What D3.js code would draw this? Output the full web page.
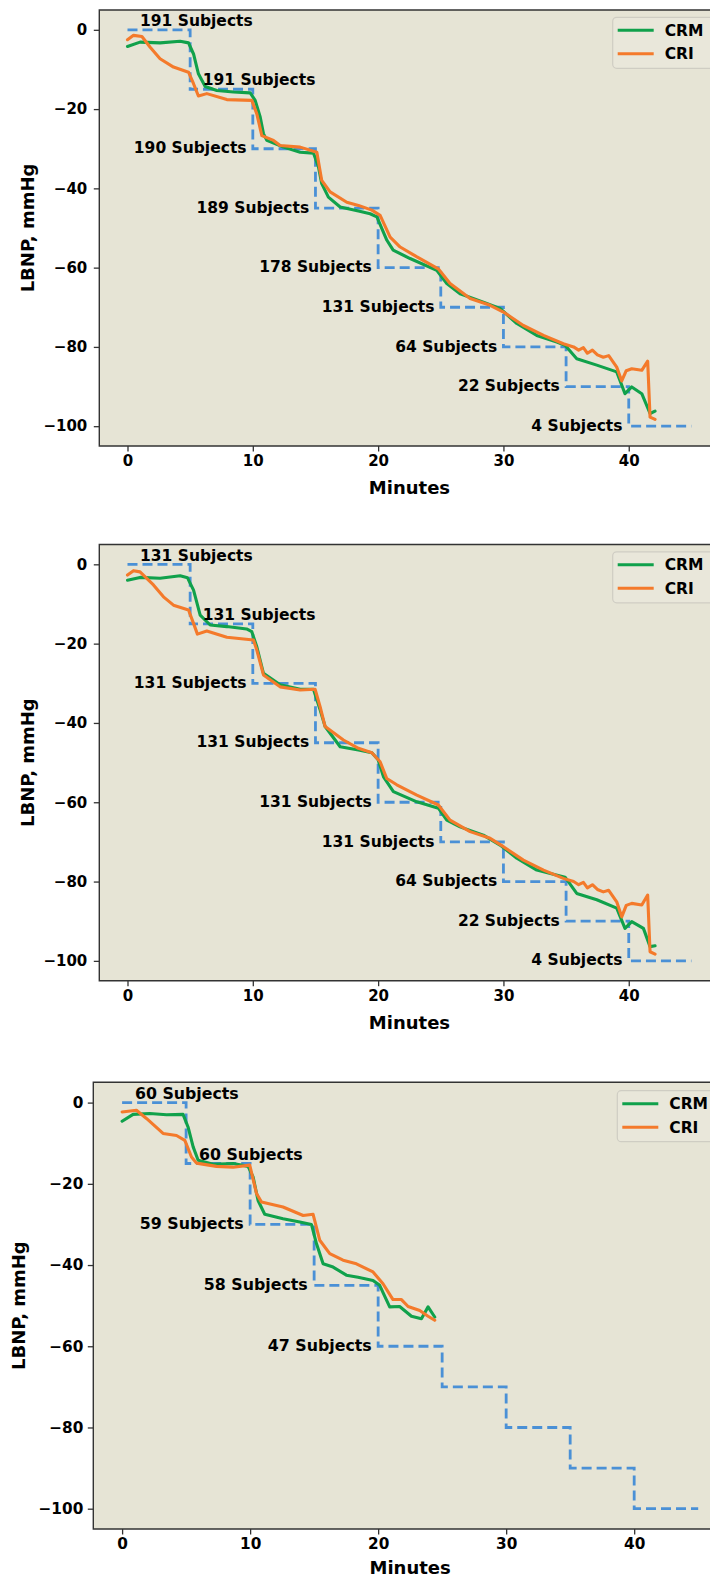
<!DOCTYPE html>
<html>
<head>
<meta charset="utf-8">
<script src="https://cdn.jsdelivr.net/npm/d3@7"></script>
<style>
  body { margin: 0; background: #fff; }
  svg text { font-family: "DejaVu Sans", sans-serif; font-weight: bold; }
</style>
</head>
<body>
<div id="chart"></div>
<script>
// ---- data ----
var xTicks = [0, 10, 20, 30, 40];
var yTicks = [0, -20, -40, -60, -80, -100];
var stepMinutes = [0, 5, 10, 15, 20, 25, 30, 35, 40, 45];
var stepLevels = [0, -15, -30, -45, -60, -70, -80, -90, -100];
var seriesNames = ["CRM", "CRI"];

var subjects1 = [191, 191, 190, 189, 178, 131, 64, 22, 4];
var subjects2 = [131, 131, 131, 131, 131, 131, 64, 22, 4];
var subjects3 = [60, 60, 59, 58, 47];

var crmMin1 = [0, 1.0, 2.6, 4.2, 4.87, 5.27, 5.66, 6.2, 7.13, 8.46, 9.79, 10.19, 10.59, 10.85, 11.12, 12.45, 13.78, 14.84, 15.24, 15.5, 16.03, 16.97, 18.43, 19.36, 19.9, 20.7, 21.2, 22.55, 24.68, 25.48, 26.54, 28.4, 29.73, 31.07, 32.66, 34.26, 34.92, 35.85, 37.45, 39.04, 39.7, 40.24, 41.04, 41.7, 42.1];
var crmVal1 = [-4.2, -3.1, -3.3, -2.9, -3.3, -6.1, -11.1, -14.3, -15.3, -15.7, -15.9, -17.8, -22, -26.2, -27.9, -29.6, -30.9, -31.1, -34.6, -38.8, -42.2, -44.7, -45.7, -46.4, -47.2, -53.1, -55.6, -57.7, -60.7, -64.0, -66.6, -68.7, -70.3, -74.1, -77.1, -78.8, -79.6, -83, -84.6, -86.3, -91.8, -90.1, -91.8, -96.8, -96.2];
var criMin1 = [0, 0.48, 1.15, 1.81, 2.6, 3.67, 4.87, 5.27, 5.66, 6.33, 7.93, 9.92, 10.32, 10.72, 11.65, 12.18, 13.78, 15.11, 15.5, 16.17, 17.5, 18.43, 19.5, 20.16, 20.96, 21.76, 23.1, 24.8, 25.74, 27.34, 28.94, 30.0, 31.59, 33.2, 34.78, 35.6, 36.0, 36.38, 36.7, 37.1, 37.5, 37.97, 38.4, 39.04, 39.44, 39.8, 40.24, 41.04, 41.51, 41.7, 42.1];
var criVal1 = [-2.5, -1.4, -1.7, -4.4, -7.3, -9.4, -10.7, -13.6, -16.7, -16.1, -17.6, -17.8, -21.2, -26.7, -27.9, -29.2, -29.6, -30.9, -38, -40.9, -43.5, -44.3, -45.5, -46.8, -52.3, -54.8, -57.3, -60.3, -64, -67.8, -69.5, -71.2, -74.6, -77.1, -79.2, -80.0, -80.8, -80.2, -81.6, -80.8, -82.0, -82.6, -82.2, -85.1, -88.6, -86.0, -85.5, -85.9, -83.6, -97.7, -98.3];

var crmMin2 = [0, 1.0, 2.6, 4.2, 4.79, 5.27, 5.8, 6.6, 7.93, 9.5, 9.92, 10.32, 10.85, 12.18, 13.78, 14.84, 15.37, 15.77, 16.97, 18.43, 19.5, 20.0, 20.43, 21.22, 23.09, 24.81, 25.48, 26.54, 28.4, 29.73, 31.07, 32.66, 34.92, 35.85, 37.45, 39.04, 39.7, 40.24, 41.17, 41.7, 42.1];
var crmVal2 = [-4.0, -3.3, -3.5, -2.9, -3.4, -6.5, -12.8, -15.3, -15.7, -16.3, -17, -20.8, -27.5, -30.4, -31.5, -31.5, -36.7, -40.9, -46, -46.8, -47.5, -49.3, -53.6, -57.3, -59.9, -61.5, -64.5, -66.2, -68.3, -70.8, -74.1, -77.1, -78.9, -83, -84.6, -86.7, -91.8, -90.1, -91.8, -96.4, -96.2];
var criMin2 = [0, 0.48, 1.0, 2.07, 2.87, 3.67, 4.87, 5.27, 5.58, 6.33, 7.93, 10.05, 10.32, 10.85, 12.18, 13.78, 14.97, 15.37, 15.77, 17.23, 18.43, 19.5, 20.16, 20.69, 21.49, 23.09, 24.81, 25.74, 27.34, 28.94, 30, 31.59, 33.2, 34.78, 35.6, 36.0, 36.38, 36.7, 37.1, 37.5, 37.97, 38.4, 39.04, 39.44, 39.8, 40.24, 41.04, 41.51, 41.7, 42.1];
var criVal2 = [-2.7, -1.6, -1.9, -5.2, -8.2, -10.3, -11.5, -14.9, -17.6, -16.8, -18.4, -19.1, -21.6, -27.9, -30.9, -31.7, -31.5, -35.9, -40.9, -44.3, -46.4, -47.5, -49.8, -54, -55.6, -58.2, -60.7, -64.5, -67.4, -69.1, -71.2, -74.6, -77.1, -79.2, -80.0, -80.8, -80.2, -81.6, -80.8, -82.0, -82.6, -82.2, -85.1, -88.9, -86.0, -85.5, -85.9, -83.4, -97.7, -98.3];

var crmMin3 = [0, 0.86, 2.16, 3.47, 4.76, 5.15, 5.55, 5.94, 7.11, 8.67, 9.84, 10.23, 10.62, 11.14, 12.57, 13.88, 14.79, 15.18, 15.7, 16.48, 17.52, 18.43, 19.6, 20.12, 20.9, 21.68, 22.6, 23.38, 23.9, 24.42];
var crmVal3 = [-4.6, -2.9, -2.7, -3.0, -2.9, -6.0, -10.9, -14.2, -15.2, -15.0, -15.7, -18.3, -24.1, -27.5, -28.6, -29.4, -30, -34.7, -39.7, -40.5, -42.5, -43, -43.8, -45, -50.3, -50.2, -52.6, -53.2, -50.3, -52.8];
var criMin3 = [0, 1.12, 1.9, 3.2, 4.25, 4.9, 5.42, 5.81, 7.37, 8.67, 9.97, 10.5, 10.89, 12.57, 14.14, 14.92, 15.44, 16.22, 17.26, 18.3, 19.6, 20.38, 21.16, 21.82, 22.34, 23.25, 23.9, 24.42];
var criVal3 = [-2.3, -1.9, -3.9, -7.6, -8.1, -9.3, -13.4, -14.9, -15.7, -15.9, -15.4, -22.4, -24.5, -25.7, -27.8, -27.5, -33.9, -37.2, -38.8, -39.7, -41.7, -44.6, -48.5, -48.5, -50.2, -51.2, -52.6, -53.6];

// ---- styles ----
var bgColor = "#e6e4d5";
var crmColor = "#10a14b";
var criColor = "#f47a2b";
var stepColor = "#4a90d6";
var colors = [crmColor, criColor];

var svg = d3.select("#chart").append("svg")
    .attr("width", 710)
    .attr("height", 1579);

function zip(a, b) {
    return a.map(function (d, i) { return [d, b[i]]; });
}

function DrawPanel(p)
{
    var x = d3.scaleLinear().domain([-2.25, 47.25]).range([p.left, p.right]);
    var y = d3.scaleLinear().domain([-105, 5]).range([p.bottom, p.top]);

    var g = svg.append("g");

    g.append("rect")
        .attr("x", p.left).attr("y", p.top)
        .attr("width", p.right - p.left).attr("height", p.bottom - p.top)
        .style("fill", bgColor);

    // requested LBNP steps
    var stepPts = [];
    stepLevels.forEach(function (lv, i) {
        stepPts.push([stepMinutes[i], lv]);
        stepPts.push([stepMinutes[i + 1], lv]);
    });
    var line = d3.line().x(function (d) { return x(d[0]); }).y(function (d) { return y(d[1]); });

    g.append("path")
        .attr("d", line(stepPts))
        .style("fill", "none")
        .style("stroke", stepColor)
        .style("stroke-width", 2.8)
        .style("stroke-dasharray", "10,5");

    // series
    p.series.forEach(function (s, i) {
        g.append("path")
            .attr("d", line(zip(s[0], s[1])))
            .style("fill", "none")
            .style("stroke", colors[i])
            .style("stroke-width", 3.1)
            .style("stroke-linejoin", "round")
            .style("stroke-linecap", "round");
    });

    // subject labels
    p.subjects.forEach(function (n, i) {
        var t = g.append("text")
            .style("font-size", p.labelSize + "px")
            .text(n + " Subjects");
        if (i < 2) {
            t.attr("x", x(stepMinutes[i] + 1))
             .attr("y", y(stepLevels[i]) - 3.8)
             .attr("text-anchor", "start");
        } else {
            t.attr("x", x(stepMinutes[i] - 0.5))
             .attr("y", y(stepLevels[i]) + 4.6)
             .attr("text-anchor", "end");
        }
    });

    // axes
    var xAxis = g.append("g")
        .attr("transform", "translate(0," + p.bottom + ")")
        .call(d3.axisBottom(x).tickValues(xTicks).tickSize(5.5).tickPadding(4));
    var yAxis = g.append("g")
        .attr("transform", "translate(" + p.left + ",0)")
        .call(d3.axisLeft(y).tickValues(yTicks).tickSize(5.5).tickPadding(p.yPad));

    [xAxis, yAxis].forEach(function (a) {
        a.select(".domain").remove();
        a.selectAll("line").style("stroke", "#333").style("stroke-width", 1.3);
        a.selectAll("text")
            .style("font-family", "DejaVu Sans")
            .style("font-weight", "bold")
            .style("font-size", p.tickSize + "px")
            .style("fill", "#000");
    });

    // spines
    g.append("path")
        .attr("d", "M" + (p.right + 5) + "," + p.top + "H" + p.left + "V" + p.bottom + "H" + (p.right + 5))
        .style("fill", "none")
        .style("stroke", "#333")
        .style("stroke-width", 1.4);

    g.append("text")
        .attr("x", (p.left + p.right) / 2)
        .attr("y", p.bottom + p.titleGap)
        .attr("text-anchor", "middle")
        .style("font-size", "18px")
        .text("Minutes");

    g.append("text")
        .attr("transform", "rotate(-90)")
        .attr("x", -(p.top + p.bottom) / 2)
        .attr("y", p.yLabelX)
        .attr("text-anchor", "middle")
        .style("font-size", "18px")
        .text("LBNP, mmHg");

    // legend
    var lg = g.append("g");
    lg.append("rect")
        .attr("x", p.legX).attr("y", p.top + p.legTop)
        .attr("width", 120).attr("height", 51)
        .attr("rx", 4)
        .style("fill", "#e9e7da")
        .style("stroke", "#cfcdc3")
        .style("stroke-width", 1.2);
    seriesNames.forEach(function (name, i) {
        var ly = p.top + p.legTop + 13 + i * 23.5;
        lg.append("line")
            .attr("x1", p.legX + 5).attr("x2", p.legX + 41)
            .attr("y1", ly).attr("y2", ly)
            .style("stroke", colors[i])
            .style("stroke-width", 3.1);
        lg.append("text")
            .attr("x", p.legX + 52)
            .attr("y", ly + 5.5)
            .style("font-size", "15.5px")
            .text(name);
    });
}

DrawPanel({ left: 99.3, right: 719.6, top: 10, bottom: 446,
    series: [[crmMin1, crmVal1], [criMin1, criVal1]], subjects: subjects1,
    labelSize: 15.5, tickSize: 15, yPad: 6.5, yLabelX: 33.5, legX: 612.7, legTop: 7.3, titleGap: 48 });

DrawPanel({ left: 99.3, right: 719.6, top: 544.5, bottom: 980.7,
    series: [[crmMin2, crmVal2], [criMin2, criVal2]], subjects: subjects2,
    labelSize: 15.5, tickSize: 15, yPad: 6.5, yLabelX: 33.5, legX: 612.7, legTop: 7.3, titleGap: 48 });

DrawPanel({ left: 93.3, right: 727, top: 1082.3, bottom: 1529,
    series: [[crmMin3, crmVal3], [criMin3, criVal3]], subjects: subjects3,
    labelSize: 15.8, tickSize: 15.3, yPad: 4.5, yLabelX: 25, legX: 617.3, legTop: 8.4, titleGap: 45 });
</script>
</body>
</html>
